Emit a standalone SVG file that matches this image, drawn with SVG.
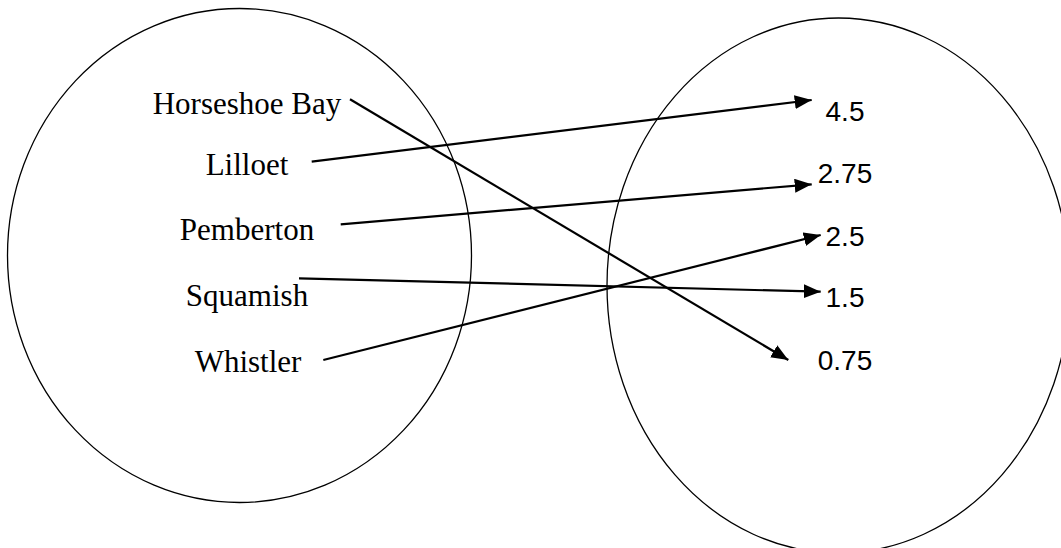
<svg xmlns="http://www.w3.org/2000/svg" width="1061" height="548" viewBox="0 0 1061 548">
<style>
.set{fill:none;stroke:#000;stroke-width:1.3}
.src{font-family:"Liberation Serif","Times New Roman",serif;font-size:31px;fill:#000;text-anchor:middle}
.dst{font-family:"Liberation Sans",Arial,sans-serif;font-size:28px;fill:#000;text-anchor:middle}
.edge{fill:none;stroke:#000;stroke-width:2.2}
</style>
<defs>
<marker id="arr" markerUnits="userSpaceOnUse" markerWidth="17" markerHeight="14" viewBox="0 0 17 14" refX="17" refY="7" orient="auto">
<path d="M0,0 L17,7 L0,14 Z" fill="#000"/>
</marker>
</defs>
<rect width="1061" height="548" fill="#fff"/>
<g id="domain">
<ellipse class="set" cx="239.5" cy="255.5" rx="232" ry="247"/>
</g>
<g id="range">
<ellipse class="set" cx="838.5" cy="285.5" rx="231.5" ry="267.5"/>
</g>
<g id="n-horseshoe"><text class="src" x="247" y="114">Horseshoe Bay</text></g>
<g id="n-lilloet"><text class="src" x="247" y="175">Lilloet</text></g>
<g id="n-pemberton"><text class="src" x="247" y="240">Pemberton</text></g>
<g id="n-squamish"><text class="src" x="247" y="306">Squamish</text></g>
<g id="n-whistler"><text class="src" x="248" y="372">Whistler</text></g>
<g id="v-45"><text class="dst" x="845" y="121">4.5</text></g>
<g id="v-275"><text class="dst" x="845" y="183">2.75</text></g>
<g id="v-25"><text class="dst" x="845" y="246">2.5</text></g>
<g id="v-15"><text class="dst" x="845" y="307">1.5</text></g>
<g id="v-075"><text class="dst" x="845" y="370">0.75</text></g>
<g id="connectors">
<line class="edge" x1="311.7" y1="161.7" x2="811.7" y2="100" marker-end="url(#arr)"/>
<line class="edge" x1="340.7" y1="224.3" x2="811.7" y2="184.3" marker-end="url(#arr)"/>
<line class="edge" x1="299" y1="278.3" x2="820.7" y2="291.7" marker-end="url(#arr)"/>
<line class="edge" x1="323.3" y1="360" x2="820.7" y2="235" marker-end="url(#arr)"/>
<line class="edge" x1="350" y1="99.3" x2="788.3" y2="360" marker-end="url(#arr)"/>
</g>
</svg>
